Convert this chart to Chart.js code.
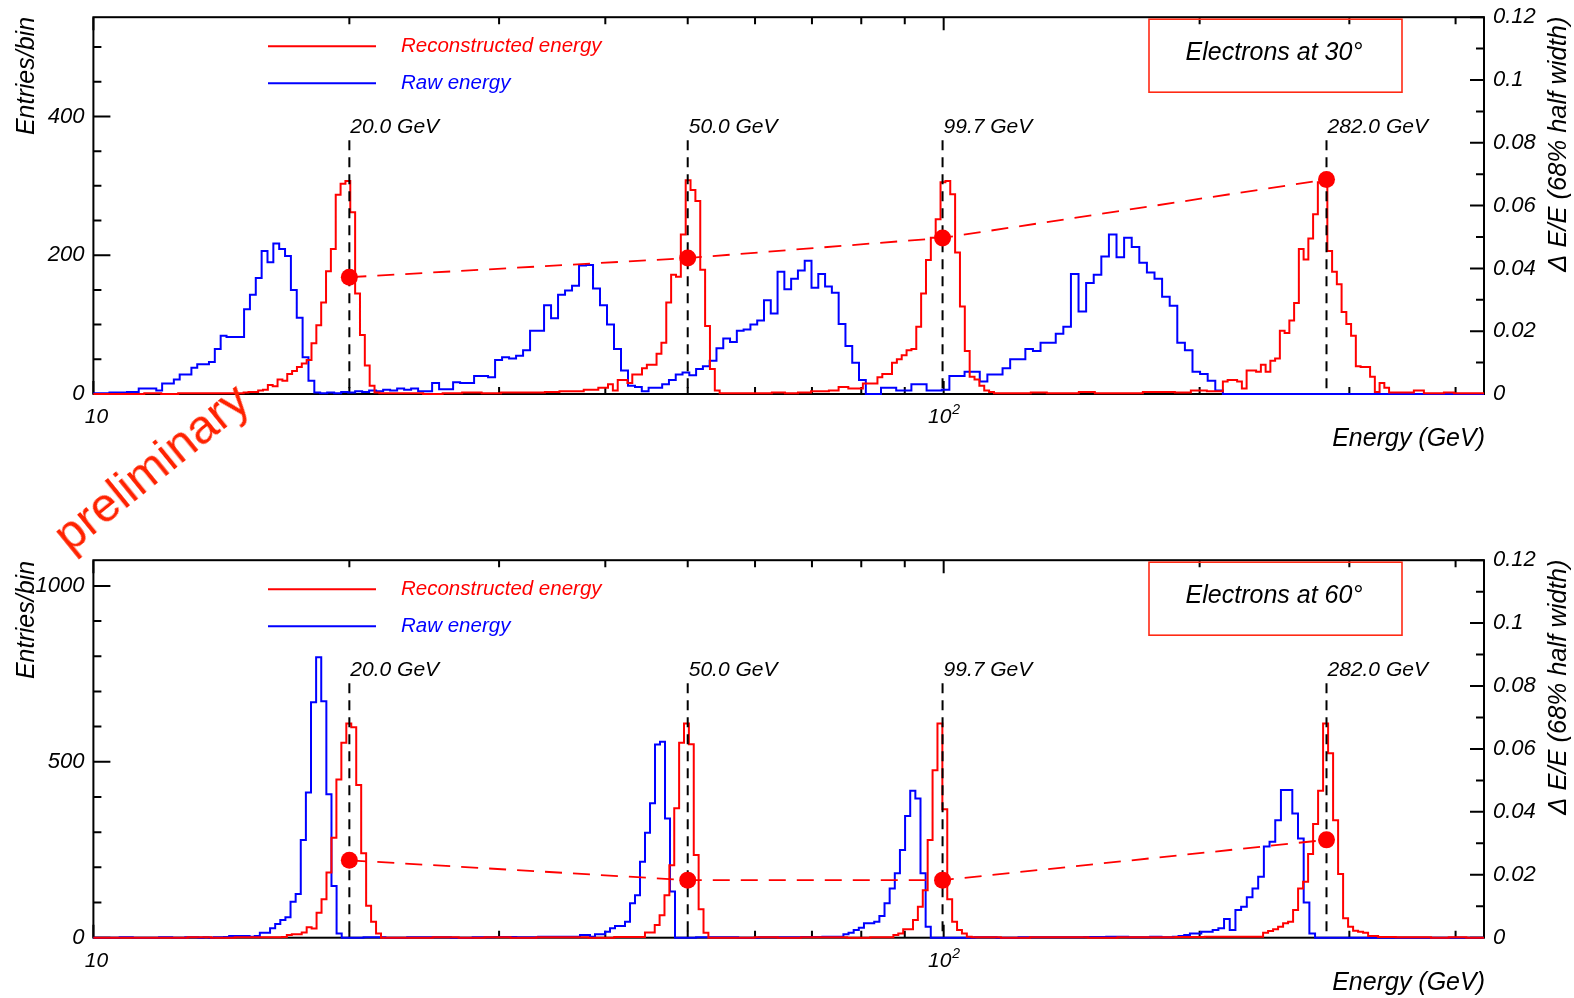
<!DOCTYPE html>
<html>
<head>
<meta charset="utf-8">
<title>Electron energy response</title>
<script src="https://cdn.jsdelivr.net/npm/chart.js@4.4.1/dist/chart.umd.min.js"></script>
<style>
  html, body { margin: 0; padding: 0; background: #fff; }
  #page { position: relative; width: 1574px; height: 998px; overflow: hidden; }
  canvas { position: absolute; left: 0; }
  #chart30 { top: 0; }
  #chart60 { top: 480px; }
  #stamp {
    position: absolute; left: 151px; top: 467px;
    transform: translate(-50%, -50%) rotate(-39deg);
    font: 48px 'Liberation Sans', Arial, sans-serif;
    color: #ff2200; white-space: nowrap;
  }
</style>
</head>
<body>
<div id="page">
  <canvas id="chart30" width="1574" height="480"></canvas>
  <canvas id="chart60" width="1574" height="518"></canvas>
  <div id="stamp">preliminary</div>
</div>
<script>
// Beam energies (GeV) and the measured resolution dE/E (68% half width)
const beamEnergies = [20.0, 50.0, 99.7, 282.0];
const resolution30 = [0.0372, 0.0433, 0.0497, 0.0683];
const resolution60 = [0.0246, 0.0183, 0.0183, 0.0311];

// Histogram pieces: [low edge GeV, high edge GeV, entries per bin]
const reco30 = [
  [10, 14.44, [0, 0, 0, 1, 0, 1, 1, 1]],
  [14.44, 21.98, [1, 1, 1, 2, 3, 3, 5, 6, 13, 11, 21, 19, 29, 33, 39, 44, 49, 73, 99, 132, 177, 209, 287, 303, 307, 262, 145, 85, 41, 12, 2, 1]],
  [21.98, 33.52, [1, 1, 0, 1, 2, 1, 2, 2]],
  [33.52, 54.52, [2, 3, 3, 3, 4, 4, 4, 4, 4, 6, 6, 6, 9, 9, 14, 5, 20, 20, 16, 28, 28, 37, 42, 42, 58, 74, 132, 172, 169, 230, 308, 294, 278, 179, 98, 36, 5]],
  [54.52, 72.33, [1, 1, 1, 1, 2, 1, 2, 4]],
  [72.33, 116.1, [4, 5, 5, 10, 10, 8, 8, 8, 15, 15, 15, 24, 29, 29, 45, 50, 56, 63, 65, 97, 145, 193, 225, 252, 305, 307, 288, 204, 126, 62, 25, 21, 12, 5, 3, 1]],
  [116.1, 213.0, [1, 1, 2, 1, 1, 3, 1, 1, 1, 3, 3, 2, 5, 4]],
  [213.0, 338.4, [18, 20, 20, 18, 8, 34, 34, 32, 42, 32, 48, 51, 91, 88, 106, 131, 209, 194, 224, 259, 305, 300, 206, 176, 158, 118, 101, 84, 40, 39, 39, 25, 3, 16, 9, 2]],
  [338.4, 432, [2, 2, 5, 1, 1, 2, 1, 1, 1]]
];
const raw30 = [
  [10, 10.28, [1]],
  [10.28, 18.48, [1, 2, 2, 2, 3, 3, 8, 8, 8, 5, 15, 15, 21, 28, 28, 38, 43, 43, 46, 65, 84, 82, 82, 82, 122, 143, 167, 206, 190, 217, 209, 199, 150, 110, 53, 19, 2]],
  [18.48, 43.35, [1, 2, 1, 3, 2, 4, 3, 5, 4, 6, 5, 8, 6, 8, 4, 4, 16, 7, 7, 17, 16, 16, 26, 26, 24, 49, 53, 51, 55, 63, 91, 91, 128, 109, 143, 149, 156, 185, 186, 152, 128, 100, 65, 34, 12]],
  [43.35, 80.99, [10, 4, 9, 9, 14, 20, 28, 31, 27, 36, 40, 48, 66, 80, 75, 91, 93, 100, 106, 135, 116, 176, 151, 166, 178, 192, 153, 173, 155, 146, 101, 69, 45, 20]],
  [80.99, 213.0, [0, 0, 9, 9, 5, 5, 14, 14, 5, 5, 6, 26, 26, 32, 32, 18, 28, 28, 37, 50, 50, 65, 62, 74, 74, 87, 97, 173, 119, 160, 172, 198, 230, 197, 225, 212, 189, 175, 166, 140, 127, 74, 63, 32, 29, 19, 5]],
  [213.0, 432, [0]]
];
const reco60 = [
  [10, 16.66, [0, 0, 0, 0, 1, 0, 1, 1]],
  [16.66, 21.79, [2, 8, 10, 10, 15, 30, 26, 71, 109, 185, 284, 450, 554, 609, 598, 434, 240, 91, 45, 12]],
  [21.79, 43.95, [0, 0, 1, 0, 1, 0, 1, 1, 0, 2]],
  [43.95, 52.88, [2, 15, 15, 36, 64, 121, 206, 368, 554, 609, 550, 235, 81, 14]],
  [52.88, 87.27, [0, 0, 1, 0, 1, 1, 0, 1]],
  [87.27, 107.9, [8, 12, 24, 24, 50, 88, 135, 278, 476, 609, 365, 109, 45, 22, 12, 3]],
  [107.9, 237.5, [1, 0, 1, 1, 0, 1, 1, 2, 3, 3]],
  [237.5, 324.3, [14, 19, 24, 31, 41, 45, 79, 140, 159, 238, 323, 418, 609, 524, 334, 181, 55, 31, 20, 17, 14, 5, 5]],
  [324.3, 432, [2, 1, 1, 0, 1, 0]]
];
const raw60 = [
  [10, 13.29, [0, 0, 1, 0, 0, 1, 0, 1]],
  [13.29, 19.59, [0, 1, 0, 1, 1, 2, 5, 5, 5, 5, 3, 5, 14, 14, 27, 39, 50, 58, 102, 124, 278, 413, 669, 797, 672, 408, 147, 12]],
  [19.59, 35.38, [0, 1, 0, 1, 1, 0, 1, 2, 1, 3]],
  [35.38, 48.31, [3, 3, 3, 3, 8, 8, 3, 10, 10, 17, 27, 33, 33, 45, 98, 121, 216, 298, 382, 549, 557, 339, 131]],
  [48.31, 76.22, [0, 1, 1, 0, 1, 1, 2, 3]],
  [76.22, 96.57, [10, 14, 22, 28, 41, 41, 45, 62, 98, 140, 183, 249, 346, 418, 396, 183, 31]],
  [96.57, 174.9, [0, 0, 1, 0, 1, 1, 1, 2, 3, 1]],
  [174.9, 273.4, [3, 3, 1, 1, 3, 5, 8, 12, 12, 17, 17, 22, 27, 53, 22, 79, 88, 115, 140, 173, 259, 273, 334, 420, 420, 353, 282, 100, 12]],
  [273.4, 432, [0]]
];

// Axis ranges and ticks
const energyRange = [10, 432];
const energyTicks = [10, 20, 30, 40, 50, 60, 70, 80, 90, 100, 200, 300, 400];
const resolutionTicks = [0, 0.02, 0.04, 0.06, 0.08, 0.1, 0.12];
const entryTicks30 = [0, 200, 400];
const entryTicks60 = [0, 500, 1000];

const RED = '#ff0000';
const BLUE = '#0000ff';
const FONT = "'Liberation Sans', Arial, Helvetica, sans-serif";
const italic = px => `italic ${px}px ${FONT}`;

// Turn histogram pieces into points for a step line (bins log-spaced in each piece)
function toSteps(pieces) {
  const pts = [];
  pieces.forEach(([lo, hi, counts]) => {
    const n = counts.length;
    const a = Math.log10(lo), b = Math.log10(hi);
    counts.forEach((c, i) => pts.push({ x: Math.pow(10, a + (b - a) * i / n), y: c }));
    pts.push({ x: hi, y: counts[n - 1] });
  });
  return pts;
}

function rotatedText(ctx, text, x, y, font, color) {
  ctx.save();
  ctx.translate(x, y);
  ctx.rotate(-Math.PI / 2);
  ctx.font = font;
  ctx.fillStyle = color;
  ctx.textAlign = 'center';
  ctx.textBaseline = 'middle';
  ctx.fillText(text, 0, 0);
  ctx.restore();
}

// Frame, inward ticks, labels, beam markers, legend and title box
function panelDecor(panel) {
  return {
    id: 'panelDecor',
    beforeDatasetsDraw(chart) {
      const { ctx, chartArea: a } = chart;
      const { x, y, y2 } = chart.scales;
      ctx.save();
      ctx.strokeStyle = '#000';
      ctx.lineWidth = 2;
      ctx.strokeRect(a.left, a.top, a.right - a.left, a.bottom - a.top);

      ctx.beginPath();
      energyTicks.forEach(v => {
        const px = x.getPixelForValue(v);
        const len = (v === 10 || v === 100) ? 13 : 7;
        ctx.moveTo(px, a.bottom); ctx.lineTo(px, a.bottom - len);
        ctx.moveTo(px, a.top); ctx.lineTo(px, a.top + len);
      });
      const ticks = panel.entryTicks;
      const major = ticks[1] - ticks[0];
      for (let v = 0; v <= panel.yMax; v += panel.entryMinor) {
        const py = y.getPixelForValue(v);
        const len = v % major === 0 ? 17 : 8;
        ctx.moveTo(a.left, py); ctx.lineTo(a.left + len, py);
      }
      resolutionTicks.forEach((v, i) => {
        const py = y2.getPixelForValue(v);
        ctx.moveTo(a.right, py); ctx.lineTo(a.right - 14, py);
        if (i > 0) {
          const pm = y2.getPixelForValue((v + resolutionTicks[i - 1]) / 2);
          ctx.moveTo(a.right, pm); ctx.lineTo(a.right - 8, pm);
        }
      });
      ctx.stroke();

      // tick labels
      ctx.fillStyle = '#000';
      ctx.font = italic(22);
      ctx.textBaseline = 'middle';
      ctx.textAlign = 'right';
      ticks.forEach(v => ctx.fillText(String(v), a.left - 9, y.getPixelForValue(v)));
      ctx.textAlign = 'left';
      resolutionTicks.forEach(v => ctx.fillText(String(v), a.right + 9, y2.getPixelForValue(v)));

      ctx.font = italic(21);
      ctx.textAlign = 'center';
      const ly = a.bottom + 23;
      ctx.fillText('10', x.getPixelForValue(10) + 3, ly);
      const p100 = x.getPixelForValue(100);
      const w10 = ctx.measureText('10').width;
      ctx.textAlign = 'left';
      ctx.fillText('10', p100 - w10 / 2 - 4, ly);
      ctx.font = italic(14);
      ctx.fillText('2', p100 + w10 / 2 - 3, ly - 7);

      // axis titles
      ctx.font = italic(25);
      ctx.textAlign = 'right';
      ctx.fillText('Energy (GeV)', a.right + 1, a.bottom + 45);
      rotatedText(ctx, 'Entries/bin', 27, panel.entriesTitleY, italic(25), '#000');
      rotatedText(ctx, '\u0394 E/E (68% half width)', 1559, a.top + 127, italic(25.5), '#000');
      ctx.restore();
    },
    afterDatasetDraw(chart, args) {
      // beam energy markers go between the histograms and the resolution points
      if (args.index !== 1) return;
      const { ctx, chartArea: a } = chart;
      const x = chart.scales.x;
      ctx.save();
      ctx.strokeStyle = '#000';
      ctx.lineWidth = 2;
      ctx.setLineDash([10, 7]);
      ctx.font = italic(21);
      ctx.fillStyle = '#000';
      ctx.textAlign = 'left';
      ctx.textBaseline = 'middle';
      beamEnergies.forEach(e => {
        const px = x.getPixelForValue(e);
        ctx.beginPath();
        ctx.moveTo(px, a.top + 123);
        ctx.lineTo(px, a.bottom);
        ctx.stroke();
        ctx.fillText(e.toFixed(1) + ' GeV', px + 1, a.top + 110);
      });
      ctx.restore();
    },
    afterDraw(chart) {
      const { ctx, chartArea: a } = chart;
      ctx.save();
      // legend
      ctx.lineWidth = 2;
      ctx.font = italic(20.5);
      ctx.textBaseline = 'middle';
      ctx.textAlign = 'left';
      [[RED, 'Reconstructed energy', 29], [BLUE, 'Raw energy', 66]].forEach(([c, t, dy]) => {
        ctx.strokeStyle = c;
        ctx.beginPath();
        ctx.moveTo(268, a.top + dy);
        ctx.lineTo(376, a.top + dy);
        ctx.stroke();
        ctx.fillStyle = c;
        ctx.fillText(t, 401, a.top + dy);
      });
      // title box
      ctx.strokeStyle = '#ff2a14';
      ctx.lineWidth = 1.6;
      ctx.strokeRect(1149, a.top + 2, 253, 73);
      ctx.fillStyle = '#000';
      ctx.font = italic(25);
      ctx.textAlign = 'center';
      ctx.fillText(panel.title, 1274, a.top + 36);
      ctx.restore();
    }
  };
}

function makePanel(canvasId, panel) {
  return new Chart(document.getElementById(canvasId), {
    type: 'line',
    data: {
      datasets: [
        {
          label: 'Resolution',
          data: beamEnergies.map((e, i) => ({ x: e, y: panel.resolution[i] })),
          yAxisID: 'y2',
          borderColor: RED,
          backgroundColor: RED,
          borderWidth: 1.8,
          borderDash: [17, 11],
          pointRadius: 8.5,
          pointBorderWidth: 0,
          pointBackgroundColor: RED,
          clip: false
        },
        {
          label: 'Reconstructed energy',
          data: toSteps(panel.reco),
          yAxisID: 'y',
          borderColor: RED,
          borderWidth: 2,
          stepped: true,
          pointRadius: 0,
          clip: false
        },
        {
          label: 'Raw energy',
          data: toSteps(panel.raw),
          yAxisID: 'y',
          borderColor: BLUE,
          borderWidth: 2,
          stepped: true,
          pointRadius: 0,
          clip: false
        }
      ]
    },
    options: {
      responsive: false,
      animation: false,
      devicePixelRatio: 1,
      events: [],
      layout: { padding: panel.padding },
      plugins: { legend: { display: false }, tooltip: { enabled: false } },
      scales: {
        x: { type: 'logarithmic', min: energyRange[0], max: energyRange[1], display: false },
        y: { type: 'linear', min: 0, max: panel.yMax, display: false },
        y2: { type: 'linear', min: 0, max: 0.12, display: false }
      }
    },
    plugins: [panelDecor(panel)]
  });
}

makePanel('chart30', {
  title: 'Electrons at 30\u00b0',
  reco: reco30, raw: raw30, resolution: resolution30,
  yMax: 543, entryTicks: entryTicks30, entryMinor: 50,
  entriesTitleY: 76,
  padding: { left: 93.4, right: 90, top: 17.2, bottom: 86 }
});

makePanel('chart60', {
  title: 'Electrons at 60\u00b0',
  reco: reco60, raw: raw60, resolution: resolution60,
  yMax: 1073, entryTicks: entryTicks60, entryMinor: 100,
  entriesTitleY: 140,
  padding: { left: 93.4, right: 90, top: 80.2, bottom: 60.3 }
});
</script>
</body>
</html>
